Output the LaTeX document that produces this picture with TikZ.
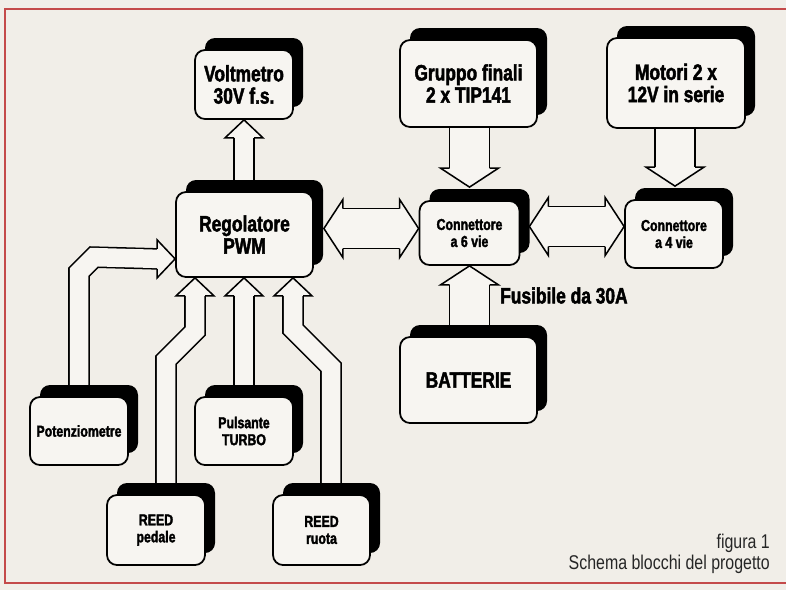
\documentclass[tikz,border=0pt]{standalone}
\usepackage{fontspec}
\usetikzlibrary{shadows, backgrounds, calc}
\newfontfamily\blkfont{Liberation Sans}[FakeStretch=0.78, BoldFeatures={FakeBold=2}]
\newfontfamily\capfont{Liberation Sans}[FakeStretch=0.8]
\definecolor{paper}{RGB}{241,238,232}
\definecolor{boxfill}{RGB}{247,245,241}
\definecolor{framered}{RGB}{196,74,74}
\tikzstyle{block} = [rectangle, rounded corners=3mm, draw=black, line width=1.5pt, fill=boxfill, align=center, inner sep=2pt, drop shadow={shadow xshift=3mm, shadow yshift=3.6mm, fill=black, opacity=1}]
\tikzstyle{bigtext} = [font=\blkfont\bfseries\fontsize{19}{19}\selectfont]
\tikzstyle{smalltext} = [font=\blkfont\bfseries\fontsize{13.5}{14.5}\selectfont]
\tikzstyle{captext} = [font=\capfont\fontsize{17}{18}\selectfont, text=black!85, inner sep=0pt, anchor=base east]
\tikzstyle{nshaft} = [line width=1.3pt, double=boxfill, double distance=5.55mm, line join=miter]
\tikzstyle{wshaft} = [line width=1.3pt, double=boxfill, double distance=11.55mm, line join=miter]
\tikzset{
  boxsize/.style 2 args={minimum width=#1*0.3mm, minimum height=#2*0.3mm},
  nhead/.pic={\filldraw[fill=boxfill, line width=1.3pt, line join=miter] (-18,-10) -- (-18,-19) -- (0,0) -- (-18,19) -- (-18,10);},
  whead/.pic={\filldraw[fill=boxfill, line width=1.3pt, line join=miter] (-19,-20) -- (-19,-29) -- (0,0) -- (-19,29) -- (-19,20);}
}
\begin{document}
\begin{tikzpicture}[x=0.3mm, y=-0.3mm]
\useasboundingbox (0,0) rectangle (786,590);

% blocks
\node (volt) [block, bigtext, boxsize={98}{69}] at (244,84.5) {Voltmetro\\30V f.s.};
\node (reg) [block, bigtext, boxsize={137}{85}] at (244.5,234.5) {Regolatore\\PWM};
\node (grp) [block, bigtext, boxsize={137}{87}] at (468.5,83.5) {Gruppo finali\\2 x TIP141};
\node (mot) [block, bigtext, boxsize={138}{90}] at (676,83) {Motori 2 x\\12V in serie};
\node (c6) [block, smalltext, boxsize={100}{64}] at (469.5,233) {Connettore\\a 6 vie};
\node (c4) [block, smalltext, boxsize={98}{68}] at (674,234) {Connettore\\a 4 vie};
\node (bat) [block, bigtext, boxsize={137}{86}] at (468.5,380) {BATTERIE};
\node (pot) [block, smalltext, boxsize={98}{68}] at (79,431) {Potenziometre};
\node (puls) [block, smalltext, boxsize={98}{68}] at (244,431) {Pulsante\\TURBO};
\node (reedp) [block, smalltext, boxsize={98}{70}] at (156,530) {REED\\pedale};
\node (reedr) [block, smalltext, boxsize={97}{70}] at (321.5,530) {REED\\ruota};

% labels
\node (fus) [bigtext, anchor=west, inner sep=0pt] at (500,295.5) {Fusibile da 30A};
\node (fig) [captext] at (770,548) {figura 1};
\node (cap) [captext] at (770,569) {Schema blocchi del progetto};

\begin{scope}[on background layer]
\fill[paper] (0,0) rectangle (786,590);
\draw[framered, line width=1.5pt] (786,9) -- (5,9) -- (5,583) -- (786,583);

% Regolatore -> Voltmetro
\draw[nshaft] (volt.south |- reg.north) -- ($(volt.south)+(0,18)$);
\pic[rotate=90] at (volt.south) {nhead};

% Regolatore <-> Connettore a 6 vie
\coordinate (rc1) at ($(reg.east)+(10,-6)$);
\coordinate (rc2) at (c6.west |- rc1);
\draw[wshaft] ($(rc1)+(19,0)$) -- ($(rc2)+(-19,0)$);
\pic[rotate=180] at (rc1) {whead};
\pic at (rc2) {whead};

% Connettore a 6 vie <-> Connettore a 4 vie
\coordinate (cc1) at ($(c6.east)+(9,-6.5)$);
\coordinate (cc2) at (c4.west |- cc1);
\draw[wshaft] ($(cc1)+(19,0)$) -- ($(cc2)+(-19,0)$);
\pic[rotate=180] at (cc1) {whead};
\pic at (cc2) {whead};

% Gruppo finali -> Connettore a 6 vie
\coordinate (gc) at ($(c6.north)+(0,-13)$);
\draw[wshaft] (gc |- grp.south) -- ($(gc)+(0,-19)$);
\pic[rotate=-90] at (gc) {whead};

% Motori -> Connettore a 4 vie
\coordinate (mc) at ($(c4.north)+(1,-13)$);
\draw[wshaft] (mc |- mot.south) -- ($(mc)+(0,-19)$);
\pic[rotate=-90] at (mc) {whead};

% Batterie -> Connettore a 6 vie
\draw[wshaft] (c6.south |- bat.north) -- ($(c6.south)+(0,19)$);
\pic[rotate=90] at (c6.south) {whead};

% Potenziometre -> Regolatore
\coordinate (pr) at ($(reg.south west)+(0,-19)$);
\draw[nshaft] (pot.north) -- ++(0,-124) -- ++(15,-15) -- ($(pr)+(-18,0)$);
\pic at (pr) {nhead};

% REED pedale -> Regolatore
\coordinate (rp) at ($(reg.south)+(-49.5,0)$);
\draw[nshaft] ($(reedp.north)+(10,0)$) -- ++(0,-134) -- ++(29,-29) -- ($(rp)+(0,18)$);
\pic[rotate=90] at (rp) {nhead};

% Pulsante TURBO -> Regolatore
\draw[nshaft] (puls.north) -- ($(puls.north |- reg.south)+(0,18)$);
\pic[rotate=90] at (puls.north |- reg.south) {nhead};

% REED ruota -> Regolatore
\coordinate (rr) at ($(reg.south)+(48.5,0)$);
\draw[nshaft] ($(reedr.north)+(9.5,0)$) -- ++(0,-127) -- ++(-38,-38) -- ($(rr)+(0,18)$);
\pic[rotate=90] at (rr) {nhead};
\end{scope}
\end{tikzpicture}
\end{document}
